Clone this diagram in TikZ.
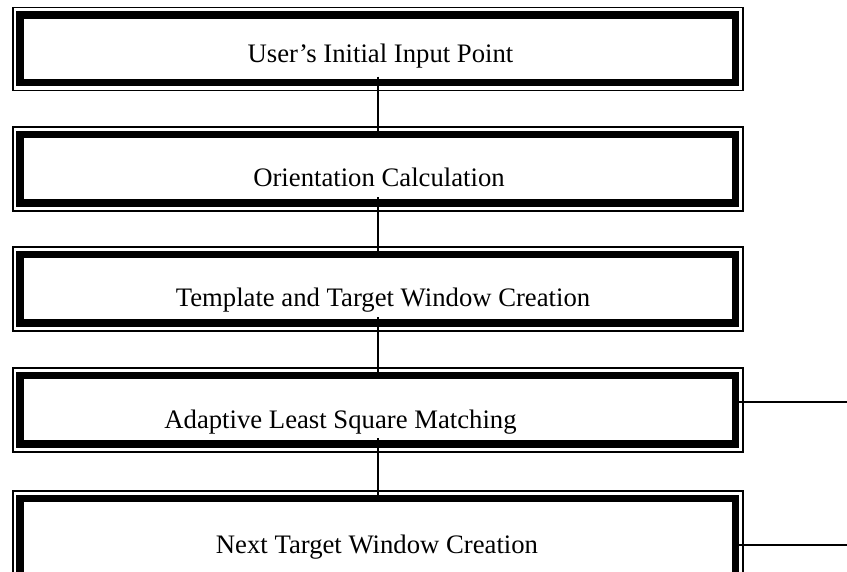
\documentclass[tikz,border=0pt]{standalone}
\usepackage{fontspec}
\setmainfont{Liberation Serif}
\begin{document}
\begin{tikzpicture}[x=1pt,y=-1pt,
  frame/.style={draw, rectangle, line width=7.5pt, outer sep=0pt, inner sep=0pt,
    minimum width=715.5pt, anchor=north west},
  rim/.style={line width=1.2pt},
  txt/.style={font=\fontsize{26.7}{31}\selectfont, anchor=base, inner sep=0pt},
  conn/.style={line width=1.5pt}]
\useasboundingbox (0,0) rectangle (847,571);
\clip (0,0) rectangle (847,571);
% boxes (thick frame)
\node[frame, minimum height=67.5pt] (b1) at (20,15) {};
\node[frame, minimum height=68.5pt] (b2) at (20,134.5) {};
\node[frame, minimum height=68.5pt] (b3) at (20,254.5) {};
\node[frame, minimum height=68.5pt] (b4) at (20,375.5) {};
\node[frame, minimum height=90pt] (b5) at (20,498.5) {};
% thin outer rims
\foreach \b in {b1,b2,b3,b4,b5}{
  \draw[rim] ([shift={(-7pt,7.5pt)}]\b.north west) rectangle ([shift={(7.5pt,-8pt)}]\b.south east);
}
% texts
\node[txt] (t1) at (380.5,62) {User’s Initial Input Point};
\node[txt] (t2) at (379,186) {Orientation Calculation};
\node[txt] (t3) at (383,306) {Template and Target Window Creation};
\node[txt] (t4) at (340.5,428) {Adaptive Least Square Matching};
\node[txt] (t5) at (377,553) {Next Target Window Creation};
% connectors
\draw[conn] ([yshift=6pt]b1.south) -- (b2.north);
\draw[conn] ([yshift=6pt]b2.south) -- (b3.north);
\draw[conn] ([yshift=6pt]b3.south) -- (b4.north);
\draw[conn] ([yshift=6pt]b4.south) -- (b5.north);
\coordinate (e4) at (847,402);
\coordinate (e5) at (847,545);
\draw[conn] (b4.east |- e4) -- (e4);
\draw[conn] (b5.east |- e5) -- (e5);
\end{tikzpicture}
\end{document}
